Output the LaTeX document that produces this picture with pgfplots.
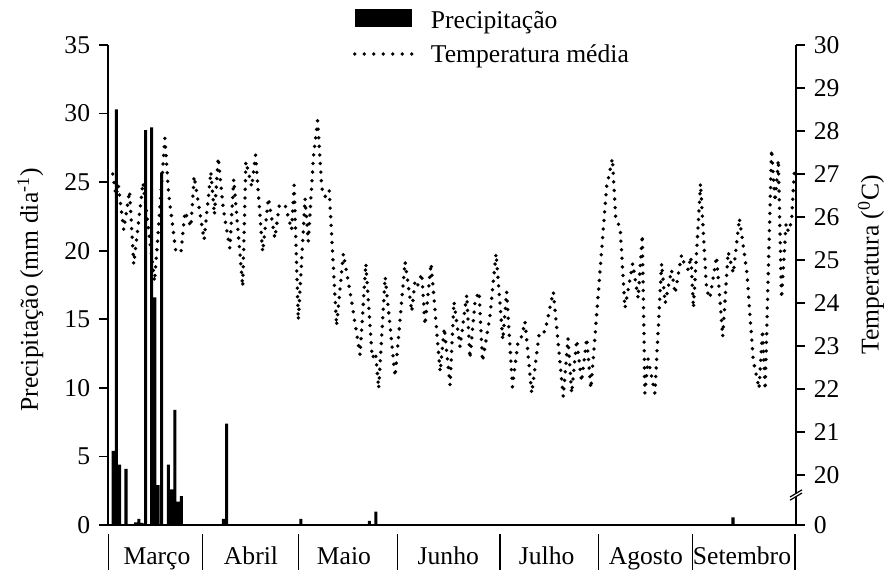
\documentclass[border=0pt]{standalone}
\usepackage{fontspec}
\setmainfont{Liberation Serif}
\usepackage{pgfplots}
\pgfplotsset{compat=1.18}
\pgfplotstableread{
x y
1.6 5.4
2.6 30.3
3.6 4.4
5.6 4.1
8.6 0.2
9.6 0.45
10.6 0.15
11.7 28.8
13.6 29.0
14.6 16.6
15.6 2.9
16.7 25.7
18.8 4.4
19.8 2.6
20.8 8.4
21.8 1.7
22.8 2.1
35.9 0.45
36.9 7.4
60.0 0.45
81.3 0.3
83.3 0.97
194.4 0.56
}\prectable
\pgfplotstableread{
x T
1.5 27.0
2.5 26.5
3.2 26.75
4.9 25.7
6.7 26.6
8.0 24.9
10.9 26.8
14.5 24.5
17.7 27.83
18.8 26.59
21.1 25.19
22.7 25.19
23.95 26.12
25.8 25.77
26.8 26.95
29.9 25.47
32.0 27.05
33.1 26.05
34.3 27.38
35.9 26.16
37.9 25.27
39.1 26.88
41.9 24.38
42.9 27.29
44.7 26.7
45.9 27.44
48.1 25.19
49.9 26.44
51.9 25.51
53.3 26.28
55.1 26.28
57.1 25.70
57.9 26.74
59.2 23.60
61.3 26.43
62.3 25.43
63.9 27.40
65.2 28.24
66.5 26.67
67.5 26.47
68.8 26.63
71.1 23.47
73.2 25.15
75.3 24.26
78.4 22.79
80.2 24.92
82.2 22.72
83.2 22.85
84.2 22.01
86.2 24.61
89.3 22.29
92.4 24.96
94.5 23.80
95.5 24.53
96.4 24.42
97.6 24.69
98.6 23.49
100.5 24.92
103.3 22.40
104.6 23.42
106.4 22.09
107.6 24.03
109.5 22.98
111.6 24.19
112.6 22.71
114.2 24.07
115.4 24.26
116.5 22.64
118.8 23.68
120.7 25.15
122.8 23.14
124.0 24.26
125.8 22.05
127.6 23.14
128.7 23.22
129.7 23.57
131.8 21.90
134.2 23.33
135.9 23.33
138.5 24.26
141.6 21.82
143.1 23.18
144.2 21.90
145.8 23.14
147.3 22.17
148.9 23.18
150.2 22.01
155.1 26.71
156.9 27.36
157.9 26.0
159.3 25.74
160.8 23.88
163.2 24.92
164.9 24.11
166.2 25.58
167.0 21.90
168.0 22.7
170.1 21.9
172.2 24.92
173.3 23.99
175.3 24.77
176.4 24.22
178.4 25.12
179.2 24.92
180.5 24.77
181.3 25.08
182.1 23.88
184.3 26.78
186.2 24.30
187.2 24.11
189.3 25.08
191.2 23.22
192.9 25.19
194.5 24.69
196.4 25.97
198.7 24.73
200.7 22.67
202.5 22.01
203.6 23.37
204.4 21.98
206.4 27.57
207.5 26.36
208.5 27.33
209.5 24.11
210.9 25.85
211.6 25.66
212.6 25.9
213.6 27.2
}\temptable
\pgfplotsset{
  common/.style={
    scale only axis, width=344pt, height=240pt,
    xmin=0, xmax=214, clip=false,
    /pgf/number format/assume math mode=true,
    tick align=outside,
    axis line style={line width=0.8pt},
    major tick length=4.5pt,
    every major tick/.style={black, line width=0.8pt},
  },
  tempstyle/.style={black, line width=1.9pt, line cap=round, dash pattern=on 0pt off 4.3pt},
  barlegend/.style={legend image code/.code={\fill[black] (0pt,-2.5pt) rectangle (28.5pt,6.5pt);}},
  linelegend/.style={legend image code/.code={\draw[black, line width=1.9pt, line cap=round, dash pattern=on 0pt off 4.75pt] (0pt,1pt) -- (28.6pt,1pt);}},
}
\begin{document}
\fontsize{12.8}{15}\selectfont
\begin{tikzpicture}
\begin{axis}[common,
  ymin=0, ymax=35,
  axis x line*=bottom, axis y line*=left,
  ytick={0,5,...,35},
  xtick=\empty,
  minor xtick={0,1,...,214},
  minor tick length=3.3pt,
  every minor tick/.style={black, line width=0.4pt},
  ylabel={Precipitação (mm dia\textsuperscript{-1})},
  y label style={at={(axis description cs:-0.113,0.49)}, anchor=center},
  legend style={at={(0.356,1.075)}, anchor=north west, draw=none, fill=none,
    inner sep=0pt, outer sep=0pt, column sep=8.5pt, row sep=5pt,
    nodes={inner sep=0pt, text height=9pt, text depth=3pt}},
  legend cell align=left,
]
\coordinate (bl) at (rel axis cs:0,0);
\addplot[ybar, bar width=0.95, fill=black, draw=none, barlegend] table[x=x, y=y] {\prectable};
\addlegendentry{Precipitação}
\addlegendimage{linelegend}
\addlegendentry{Temperatura média}
\draw[line width=0.6pt] (axis cs:0.1,0) ++(0,-4.5pt) -- ++(0,-18pt);
\draw[line width=0.6pt] (axis cs:29.33,0) ++(0,-4.5pt) -- ++(0,-18pt);
\draw[line width=0.6pt] (axis cs:59.2,0) ++(0,-4.5pt) -- ++(0,-18pt);
\draw[line width=0.6pt] (axis cs:90.0,0) ++(0,-4.5pt) -- ++(0,-18pt);
\draw[line width=0.6pt] (axis cs:121.9,0) ++(0,-4.5pt) -- ++(0,-18pt);
\draw[line width=0.6pt] (axis cs:152.5,0) ++(0,-4.5pt) -- ++(0,-18pt);
\draw[line width=0.6pt] (axis cs:181.7,0) ++(0,-4.5pt) -- ++(0,-18pt);
\draw[line width=0.6pt] (axis cs:213.7,0) ++(0,-4.5pt) -- ++(0,-18pt);
\node[anchor=base] at ([yshift=-19.5pt]axis cs:15.24,0) {Março};
\node[anchor=base] at ([yshift=-19.5pt]axis cs:44.48,0) {Abril};
\node[anchor=base] at ([yshift=-19.5pt]axis cs:73.4,0) {Maio};
\node[anchor=base] at ([yshift=-19.5pt]axis cs:105.85,0) {Junho};
\node[anchor=base] at ([yshift=-19.5pt]axis cs:136.45,0) {Julho};
\node[anchor=base] at ([yshift=-19.5pt]axis cs:167.3,0) {Agosto};
\node[anchor=base] at ([yshift=-19.5pt]axis cs:197.2,0) {Setembro};
\end{axis}
\begin{axis}[common,
  ymin=18.837, ymax=30,
  axis y line*=right, axis x line=none,
  ytick={18.837,20,21,22,23,24,25,26,27,28,29,30},
  yticklabels={0,20,21,22,23,24,25,26,27,28,29,30},
  ylabel={Temperatura (\textsuperscript{0}C)},
  y label style={at={(axis description cs:1.109,0.542)}, anchor=center},
]
\coordinate (brk) at (rel axis cs:1,0.0625);
\addplot[tempstyle] table[x=x, y=T] {\temptable};
\end{axis}
\fill[white] ([shift={(-3pt,-2.6pt)}]brk) -- ++(6pt,3.6pt) -- ++(0,1.6pt) -- ++(-6pt,-3.6pt) -- cycle;
\draw[line width=0.6pt] ([shift={(-3pt,-2.6pt)}]brk) -- ++(6pt,3.6pt);
\draw[line width=0.6pt] ([shift={(-3pt,-1.0pt)}]brk) -- ++(6pt,3.6pt);
\pgfresetboundingbox
\path ([shift={(-54pt,-22.5pt)}]bl) rectangle ++(442.5pt,285pt);
\end{tikzpicture}
\end{document}
